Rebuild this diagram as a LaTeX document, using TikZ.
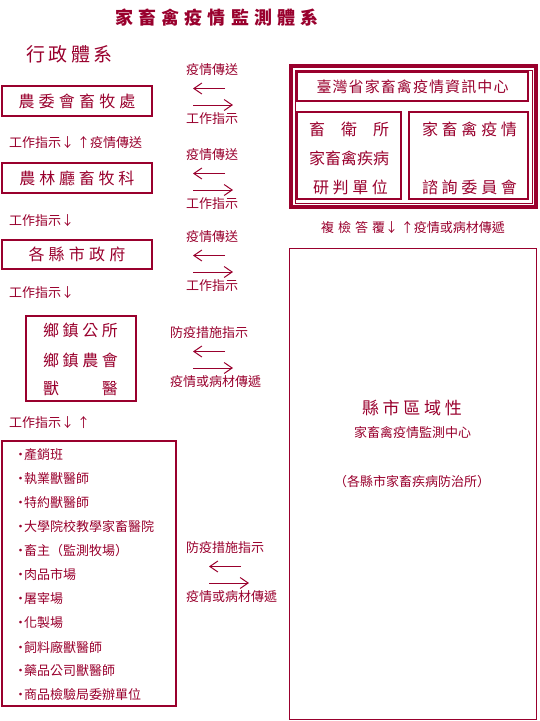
\documentclass[tikz,border=0pt]{standalone}
\usepackage{fontspec}
\setmainfont{Noto Sans CJK TC}
\usetikzlibrary{arrows.meta}
\definecolor{dred}{RGB}{153,0,45}
% spread the characters of #2 over a box of width #1
\makeatletter
\newcommand\spreadto[2]{\makebox[#1][s]{\def\spsep{}\@tfor\spch:=#2\do{\spsep\spch\def\spsep{\hfill}}}}
\makeatother

\begin{document}
\begin{tikzpicture}[x=1pt,y=-1pt,every node/.style={text=dred,inner sep=0pt}]
\tikzstyle{unit}=[draw=dred,line width=1.2pt,rectangle,inner sep=0pt]
\tikzstyle{big}=[font=\fontsize{16}{16}\selectfont]
\tikzstyle{small}=[font=\fontsize{13}{13}\selectfont]
\tikzstyle{arr}=[draw=dred,line width=1pt,-{Straight Barb[length=8pt,width=11pt]}]

\useasboundingbox (0,0) rectangle (540,721);

% Titles
\node[font=\fontsize{18}{18}\selectfont\bfseries] (title) at (217,18) {\spreadto{204pt}{家畜禽疫情監測體系}};
\node[font=\fontsize{19}{19}\selectfont] (admin) at (69.5,54) {\spreadto{87pt}{行政體系}};

% Administrative chain
\node[unit,big,minimum width=150,minimum height=30] (coa) at (77,101) {\spreadto{117pt}{農委會畜牧處}};
\node[small,anchor=west] (c1) at (9,143) {工作指示↓ ↑疫情傳送};
\node[unit,big,minimum width=150,minimum height=30] (bureau) at (77,178) {\spreadto{115pt}{農林廳畜牧科}};
\node[small,anchor=west] (c2) at (9,221) {工作指示↓};
\node[unit,big,minimum width=150,minimum height=29] (county) at (77,254.5) {\spreadto{97pt}{各縣市政府}};
\node[small,anchor=west] (c3) at (9,293) {工作指示↓};
\node[unit,minimum width=110,minimum height=85] (town) at (81,358.5) {};
\node[big] (town1) at (80.5,330) {\spreadto{75pt}{鄉鎮公所}};
\node[big] (town2) at (80.5,360) {\spreadto{75pt}{鄉鎮農會}};
\node[big] (town3) at (80.5,388) {\spreadto{75pt}{獸醫}};
\node[small,anchor=west] (c4) at (9,423) {工作指示↓ ↑};

% Field units
\node[unit,minimum width=174,minimum height=265] (field) at (89,573.5) {};
\foreach \i/\txt in {0/產銷班,1/執業獸醫師,2/特約獸醫師,3/大學院校教學家畜醫院,
                     4/畜主（監測牧場）,5/肉品市場,6/屠宰場,7/化製場,
                     8/飼料廠獸醫師,9/藥品公司獸醫師,10/商品檢驗局委辦單位} {
  \node[small,anchor=west] (it\i) at (14,{455+24*\i}) {\makebox[10pt][l]{·}\txt};
}

% Exchange arrows
\foreach \k/\xt/\xa/\yt/\ta/\tb in {1/186/193/70/疫情傳送/工作指示,
                                    2/186/193/155/疫情傳送/工作指示,
                                    3/186/193/237/疫情傳送/工作指示,
                                    4/170/193/333/防疫措施指示/疫情或病材傳遞,
                                    5/186/209/548/防疫措施指示/疫情或病材傳遞} {
  \node[small,anchor=west] (up\k) at (\xt,\yt) {\ta};
  \node[small,anchor=west] (dn\k) at (\xt,\yt+48.5) {\tb};
  \coordinate (la\k) at (\xa,\yt+18.5);
  \coordinate (ra\k) at (\xa+32,\yt+18.5);
  \coordinate (lb\k) at (\xa,\yt+35);
  \coordinate (rb\k) at (\xa+40,\yt+35);
  \draw[arr] (ra\k) -- (la\k);
  \draw[arr] (lb\k) -- (rb\k);
}

% Monitoring side
\node[draw=dred,line width=4pt,minimum width=245,minimum height=141] (info) at (413.5,136.5) {};
\node[draw=dred,line width=0.8pt,minimum width=237,minimum height=133] (infoin) at (info.center) {};
\node[unit,minimum width=231,minimum height=29,font=\fontsize{15}{15}\selectfont] (center) at (412.5,86.5) {\spreadto{192pt}{臺灣省家畜禽疫情資訊中心}};
\node[unit,minimum width=104,minimum height=87] (lab) at (349,155.5) {};
\node[big] (lab1) at (349,129) {\spreadto{80pt}{畜衛所}};
\node[big] (lab2) at (349,158) {\spreadto{80pt}{家畜禽疾病}};
\node[big] (lab3) at (350.5,187) {\spreadto{75pt}{研判單位}};
\node[unit,minimum width=119,minimum height=87] (cmte) at (468.5,155.5) {};
\node[big] (cmte1) at (469.5,129) {\spreadto{95pt}{家畜禽疫情}};
\node[big] (cmte2) at (469.5,187) {\spreadto{95pt}{諮詢委員會}};
\node[small] (c5) at (413,228) {\spreadto{64pt}{複檢答覆}↓ ↑疫情或病材傳遞};

\node[unit,minimum width=247,minimum height=471] (region) at (413,484) {};
\node[font=\fontsize{17}{17}\selectfont] (reg1) at (412,408) {\spreadto{100pt}{縣市區域性}};
\node[small] (reg2) at (412.5,433) {家畜禽疫情監測中心};
\node[small] (reg3) at (412,482) {（各縣市家畜疾病防治所）};
\end{tikzpicture}
\end{document}
